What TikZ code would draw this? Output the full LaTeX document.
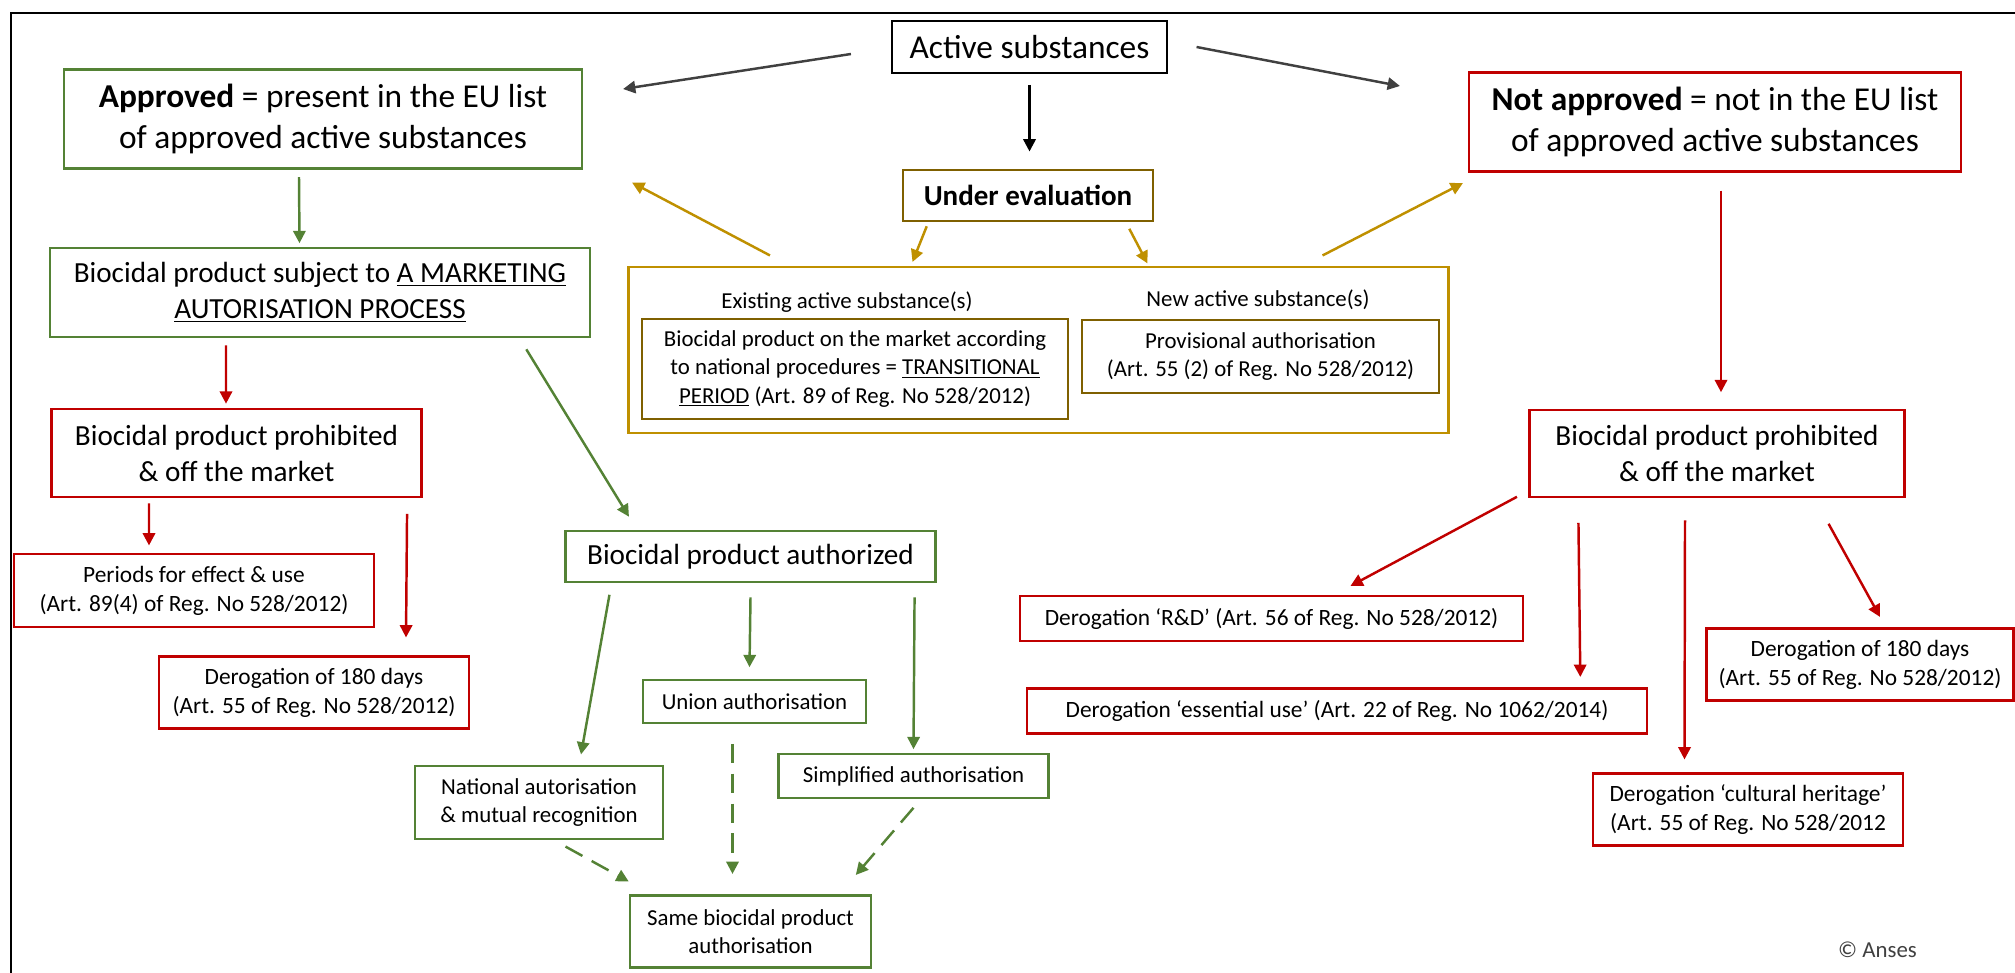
\documentclass[tikz,border=0pt]{standalone}
\usepackage{fontspec}
\setmainfont{Carlito}
\usepackage{xcolor}
\usetikzlibrary{arrows.meta}
\definecolor{leaf}{HTML}{548235}
\definecolor{crimson}{HTML}{C00000}
\definecolor{ochre}{HTML}{BF9000}
\definecolor{umber}{HTML}{7F6000}
\definecolor{bk75}{HTML}{404040}
\tikzset{
  titlebox/.style={
    rectangle, draw=#1, line width=1.2pt, fill=white,
    font=\fontsize{19}{23}\selectfont, align=center,
    inner sep=2pt
  },
  titlebox/.default=black,
  stagebox/.style={
    rectangle, draw=#1, line width=1.2pt, fill=white,
    font=\fontsize{16.6}{20.5}\selectfont, align=center,
    inner sep=2pt
  },
  stagebox/.default=leaf,
  notebox/.style={
    rectangle, draw=#1, line width=1.2pt, fill=white,
    font=\fontsize{13.3}{16.5}\selectfont, align=center,
    inner sep=2pt
  },
  notebox/.default=crimson,
  flow/.style={
    -{Triangle[length=7pt,width=7pt]}, line width=1.4pt, color=#1
  },
  flow/.default=bk75,
  dashflow/.style={flow=#1, dash pattern=on 11pt off 6pt},
  dashflow/.default=leaf,
  labelnode/.style={
    font=\fontsize{13}{16}\selectfont, color=black
  },
}

\begin{document}
\begin{tikzpicture}
  \useasboundingbox (0,0) rectangle (40.30,-19.46);
  \draw[line width=1.5pt] (0.22,-19.46) -- (0.22,-0.26) -- (40.30,-0.26);

  % top row
  \node[titlebox, minimum width=5.50cm, minimum height=1.05cm] (act) at (20.59,-0.94) {Active substances};
  \node[titlebox=leaf, minimum width=10.36cm, minimum height=1.98cm] (appr) at (6.46,-2.38)
    {\textbf{Approved} = present in the EU list\\of approved active substances};
  \node[titlebox=crimson, minimum width=9.84cm, minimum height=1.98cm] (napp) at (34.30,-2.44)
    {\textbf{Not approved} = not in the EU list\\of approved active substances};
  \draw[flow] ([xshift=-0.8cm,yshift=-0.14cm]act.west) -- ([xshift=0.8cm,yshift=0.6cm]appr.east);
  \draw[flow] ([xshift=0.57cm]act.east) -- ([xshift=-1.36cm,yshift=0.72cm]napp.west);
  \draw[flow=black] ([yshift=-0.21cm]act.south) -- ([yshift=0.36cm]act.south |- 0,-3.39);

  % under evaluation
  \node[stagebox=umber, minimum width=4.99cm, minimum height=1.03cm, font=\fontsize{16.5}{20}\selectfont\bfseries] (ueval) at (20.56,-3.91) {Under evaluation};
  \node[rectangle, draw=ochre, line width=1.2pt, minimum width=16.40cm, minimum height=3.32cm] (evframe) at (20.77,-7.00) {};
  \node[labelnode] (exlbl) at (16.94,-6.04) {Existing active substance(s)};
  \node[labelnode] (nwlbl) at (25.16,-5.99) {New active substance(s)};
  \node[notebox=umber, font=\fontsize{13}{16}\selectfont, minimum width=8.51cm, minimum height=2.00cm] (trans) at (17.10,-7.38)
    {Biocidal product on the market according\\to national procedures = \underline{TRANSITIONAL}\\\underline{PERIOD} (Art. 89 of Reg. No 528/2012)};
  \node[notebox=umber, font=\fontsize{13}{16}\selectfont, minimum width=7.14cm, minimum height=1.46cm] (prov) at (25.21,-7.13)
    {Provisional authorisation\\(Art. 55 (2) of Reg. No 528/2012)};
  \draw[flow=ochre] ([xshift=0.49cm,yshift=-0.08cm]ueval.south west) -- ([xshift=-2.52cm,yshift=0.08cm]evframe.north);
  \draw[flow=ochre] ([xshift=-0.49cm,yshift=-0.13cm]ueval.south east) -- ([xshift=2.18cm,yshift=0.05cm]evframe.north);
  \draw[flow=ochre] ([xshift=2.85cm,yshift=0.21cm]evframe.north west) -- ([xshift=0.98cm,yshift=-0.26cm]appr.south east);
  \draw[flow=ochre] ([xshift=-2.54cm,yshift=0.21cm]evframe.north east) -- ([xshift=-0.10cm,yshift=-0.21cm]napp.south west);

  % approved branch
  \node[stagebox, minimum width=10.79cm, minimum height=1.77cm] (subj) at (6.40,-5.85)
    {Biocidal product subject to \underline{A MARKETING}\\\underline{AUTORISATION PROCESS}};
  \draw[flow=leaf] ([xshift=-0.48cm,yshift=-0.15cm]appr.south) -- ([xshift=-0.41cm,yshift=0.08cm]subj.north);
  \node[stagebox=crimson, minimum width=7.40cm, minimum height=1.77cm] (prohL) at (4.73,-9.06)
    {Biocidal product prohibited\\\& off the market};
  \node[notebox, minimum width=7.20cm, minimum height=1.46cm] (per) at (3.88,-11.81)
    {Periods for effect \& use\\(Art. 89(4) of Reg. No 528/2012)};
  \node[notebox, minimum width=6.19cm, minimum height=1.44cm] (dayL) at (6.28,-13.85)
    {Derogation of 180 days\\(Art. 55 of Reg. No 528/2012)};
  \draw[flow=crimson] ([xshift=-1.88cm,yshift=-0.15cm]subj.south) -- ([xshift=-0.21cm,yshift=0.08cm]prohL.north);
  \draw[flow=crimson] ([xshift=-1.75cm,yshift=-0.10cm]prohL.south) -- ([xshift=-0.90cm,yshift=0.15cm]per.north);
  \draw[flow=crimson] ([xshift=-0.31cm,yshift=-0.31cm]prohL.south east) -- ([xshift=1.84cm,yshift=0.36cm]dayL.north);

  \node[stagebox, minimum width=7.40cm, minimum height=1.03cm] (auth) at (15.01,-11.13) {Biocidal product authorized};
  \node[notebox=leaf, font=\fontsize{13}{16}\selectfont, minimum width=4.47cm, minimum height=0.87cm] (uni) at (15.09,-14.03) {Union authorisation};
  \node[notebox=leaf, font=\fontsize{13}{16}\selectfont, minimum width=4.96cm, minimum height=1.46cm] (nat) at (10.78,-16.05)
    {National autorisation\\\& mutual recognition};
  \node[notebox=leaf, font=\fontsize{13}{16}\selectfont, minimum width=5.40cm, minimum height=0.87cm] (simp) at (18.27,-15.52) {Simplified authorisation};
  \node[notebox=leaf, font=\fontsize{13}{16}\selectfont, minimum width=4.83cm, minimum height=1.44cm] (same) at (15.01,-18.63)
    {Same biocidal product\\authorisation};
  \draw[flow=leaf] ([xshift=-1.29cm,yshift=-0.23cm]subj.south east) -- ([xshift=1.29cm,yshift=0.26cm]auth.north west);
  \draw[flow=leaf] ([xshift=0.90cm,yshift=-0.23cm]auth.south west) -- ([xshift=0.84cm,yshift=0.21cm]nat.north);
  \draw[flow=leaf] ([yshift=-0.28cm]auth.south) -- ([xshift=-0.10cm,yshift=0.23cm]uni.north);
  \draw[flow=leaf] ([xshift=-0.44cm,yshift=-0.28cm]auth.south east) -- ([yshift=0.08cm]simp.north);
  \draw[dashflow] ([xshift=0.53cm,yshift=-0.13cm]nat.south) -- ([yshift=0.26cm]same.north west);
  \draw[dashflow] ([xshift=-0.44cm,yshift=-0.39cm]uni.south) -- ([xshift=-0.36cm,yshift=0.41cm]same.north);
  \draw[dashflow] ([yshift=-0.18cm]simp.south) -- ([xshift=-0.33cm,yshift=0.39cm]same.north east);

  % not approved branch
  \node[stagebox=crimson, minimum width=7.50cm, minimum height=1.75cm] (prohR) at (34.34,-9.07)
    {Biocidal product prohibited\\\& off the market};
  \node[notebox, minimum width=10.05cm, minimum height=0.90cm] (rnd) at (25.43,-12.37)
    {Derogation ‘R\&D’ (Art. 56 of Reg. No 528/2012)};
  \node[notebox, minimum width=12.41cm, minimum height=0.90cm] (ess) at (26.74,-14.22)
    {Derogation ‘essential use’ (Art. 22 of Reg. No 1062/2014)};
  \node[notebox, minimum width=6.14cm, minimum height=1.44cm] (dayR) at (37.20,-13.29)
    {Derogation of 180 days\\(Art. 55 of Reg. No 528/2012)};
  \node[notebox, minimum width=6.19cm, minimum height=1.44cm] (cult) at (34.96,-16.19)
    {Derogation ‘cultural heritage’\\(Art. 55 of Reg. No 528/2012};
  \draw[flow=crimson] ([xshift=0.12cm,yshift=-0.36cm]napp.south) -- ([xshift=0.08cm,yshift=0.33cm]prohR.north);
  \draw[flow=crimson] ([xshift=-0.23cm,yshift=0.03cm]prohR.south west) -- ([xshift=1.58cm,yshift=0.18cm]rnd.north);
  \draw[flow=crimson] ([xshift=1.00cm,yshift=-0.49cm]prohR.south west) -- ([xshift=-1.36cm,yshift=0.21cm]ess.north east);
  \draw[flow=crimson] ([xshift=-0.64cm,yshift=-0.44cm]prohR.south) -- ([xshift=-1.27cm,yshift=0.26cm]cult.north);
  \draw[flow=crimson] ([xshift=-1.54cm,yshift=-0.51cm]prohR.south east) -- ([xshift=0.40cm,yshift=0.21cm]dayR.north);

  \node[labelnode, color=bk75] (anses) at (37.55,-18.99) {© Anses};
\end{tikzpicture}
\end{document}
